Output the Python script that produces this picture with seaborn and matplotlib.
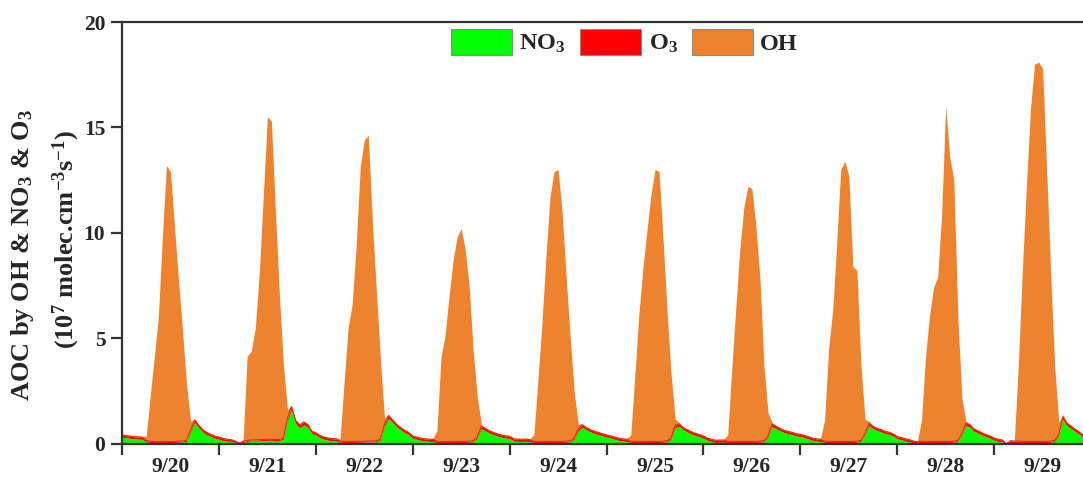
import numpy as np
import pandas as pd
import matplotlib
matplotlib.use("Agg")
import matplotlib.pyplot as plt
import seaborn as sns

# ---------------- data (hourly, 9/20 00:00 -> 9/29 22:00) ----------------
day_labels = ["9/20", "9/21", "9/22", "9/23", "9/24", "9/25", "9/26", "9/27", "9/28", "9/29"]
series_names = ["NO$_3$", "O$_3$", "OH"]

oh_920 = [0.05, 0.05, 0.05, 0.05, 0.05, 0.05, 0.2, 2.2, 4.0, 5.9, 9.7, 13.1, 12.8, 10.2, 7.6, 5.2, 2.6, 0.4, 0.05, 0.05, 0.05, 0.05, 0.05, 0.05]
oh_921 = [0.05, 0.05, 0.05, 0.05, 0.03, 0.0, 0.1, 4.0, 4.2, 5.3, 7.9, 11.6, 15.3, 15.1, 10.8, 6.8, 3.4, 0.4, 0.05, 0.05, 0.05, 0.05, 0.05, 0.05]
oh_922 = [0.05, 0.05, 0.05, 0.05, 0.05, 0.05, 0.1, 2.8, 5.4, 6.5, 9.3, 13.0, 14.3, 14.5, 10.4, 7.1, 3.8, 0.3, 0.05, 0.05, 0.05, 0.05, 0.05, 0.05]
oh_923 = [0.05, 0.05, 0.05, 0.05, 0.05, 0.05, 0.5, 4.0, 5.0, 6.9, 8.6, 9.7, 10.1, 9.1, 7.3, 4.2, 1.9, 0.1, 0.05, 0.05, 0.05, 0.05, 0.05, 0.05]
oh_924 = [0.05, 0.05, 0.05, 0.05, 0.05, 0.05, 0.3, 2.9, 5.6, 8.8, 11.6, 12.8, 12.9, 10.9, 7.8, 4.9, 2.2, 0.2, 0.05, 0.05, 0.05, 0.05, 0.05, 0.05]
oh_925 = [0.05, 0.05, 0.05, 0.05, 0.05, 0.05, 0.3, 3.1, 6.0, 8.2, 10.0, 11.7, 12.9, 12.8, 9.6, 6.1, 3.0, 0.3, 0.05, 0.05, 0.05, 0.05, 0.05, 0.05]
oh_926 = [0.05, 0.05, 0.05, 0.05, 0.05, 0.05, 0.3, 3.4, 6.3, 9.1, 11.1, 12.1, 12.0, 10.2, 7.7, 3.5, 1.1, 0.1, 0.05, 0.05, 0.05, 0.05, 0.05, 0.05]
oh_927 = [0.05, 0.05, 0.05, 0.05, 0.05, 0.05, 1.0, 4.4, 6.2, 9.4, 12.9, 13.3, 12.6, 8.3, 8.1, 3.6, 0.7, 0.1, 0.05, 0.05, 0.05, 0.05, 0.05, 0.05]
oh_928 = [0.05, 0.05, 0.05, 0.05, 0.05, 0.05, 1.0, 4.0, 6.0, 7.3, 7.8, 10.8, 15.9, 13.5, 12.4, 5.9, 1.7, 0.1, 0.05, 0.05, 0.05, 0.05, 0.05, 0.05]
oh_929 = [0.05, 0.05, 0.05, 0.0, 0.05, 0.05, 3.7, 8.2, 12.2, 15.8, 17.9, 18.0, 17.7, 12.9, 7.9, 3.5, 0.6, 0.1, 0.05, 0.05, 0.05, 0.05, 0.05]

no3_920 = [0.30, 0.27, 0.25, 0.22, 0.21, 0.20, 0.08, 0.05, 0.04, 0.04, 0.04, 0.04, 0.05, 0.05, 0.06, 0.07, 0.10, 0.55, 1.00, 0.75, 0.55, 0.42, 0.33, 0.25]
no3_921 = [0.20, 0.14, 0.11, 0.10, 0.06, 0.00, 0.05, 0.10, 0.12, 0.12, 0.13, 0.14, 0.15, 0.15, 0.14, 0.14, 0.20, 1.10, 1.60, 0.95, 0.75, 0.88, 0.78, 0.48]
no3_922 = [0.40, 0.28, 0.20, 0.16, 0.13, 0.12, 0.06, 0.05, 0.05, 0.05, 0.05, 0.06, 0.06, 0.07, 0.07, 0.08, 0.15, 0.80, 1.20, 1.00, 0.80, 0.65, 0.52, 0.42]
no3_923 = [0.25, 0.20, 0.15, 0.12, 0.10, 0.10, 0.05, 0.05, 0.05, 0.05, 0.05, 0.05, 0.05, 0.05, 0.06, 0.08, 0.25, 0.70, 0.60, 0.50, 0.42, 0.35, 0.30, 0.26]
no3_924 = [0.24, 0.12, 0.10, 0.10, 0.11, 0.08, 0.05, 0.05, 0.05, 0.05, 0.05, 0.05, 0.05, 0.05, 0.06, 0.08, 0.20, 0.60, 0.78, 0.65, 0.55, 0.48, 0.42, 0.36]
no3_925 = [0.30, 0.26, 0.20, 0.15, 0.12, 0.10, 0.05, 0.05, 0.05, 0.05, 0.05, 0.05, 0.05, 0.05, 0.06, 0.08, 0.20, 0.75, 0.82, 0.65, 0.55, 0.45, 0.38, 0.32]
no3_926 = [0.25, 0.15, 0.10, 0.05, 0.06, 0.06, 0.05, 0.05, 0.05, 0.05, 0.05, 0.05, 0.05, 0.05, 0.06, 0.08, 0.30, 0.80, 0.70, 0.60, 0.52, 0.47, 0.42, 0.36]
no3_927 = [0.33, 0.28, 0.22, 0.15, 0.12, 0.10, 0.05, 0.05, 0.05, 0.05, 0.05, 0.05, 0.05, 0.05, 0.06, 0.10, 0.40, 0.85, 0.70, 0.62, 0.55, 0.47, 0.43, 0.35]
no3_928 = [0.22, 0.18, 0.12, 0.08, 0.03, 0.02, 0.05, 0.05, 0.05, 0.05, 0.05, 0.05, 0.05, 0.05, 0.06, 0.10, 0.40, 0.85, 0.78, 0.58, 0.50, 0.40, 0.32, 0.25]
no3_929 = [0.15, 0.10, 0.08, 0.00, 0.05, 0.03, 0.05, 0.05, 0.05, 0.05, 0.05, 0.05, 0.05, 0.05, 0.06, 0.10, 0.35, 1.15, 0.85, 0.72, 0.58, 0.45, 0.30]

o3_920 = [0.10, 0.10, 0.10, 0.10, 0.10, 0.10, 0.06, 0.05, 0.05, 0.05, 0.05, 0.05, 0.05, 0.05, 0.05, 0.05, 0.06, 0.10, 0.12, 0.11, 0.10, 0.10, 0.10, 0.10]
o3_921 = [0.10, 0.10, 0.09, 0.08, 0.06, 0.03, 0.05, 0.05, 0.05, 0.05, 0.05, 0.05, 0.05, 0.05, 0.05, 0.05, 0.06, 0.12, 0.15, 0.14, 0.13, 0.14, 0.12, 0.10]
o3_922 = [0.10, 0.10, 0.10, 0.10, 0.10, 0.10, 0.06, 0.05, 0.05, 0.05, 0.05, 0.05, 0.05, 0.05, 0.05, 0.05, 0.06, 0.12, 0.13, 0.12, 0.11, 0.10, 0.10, 0.10]
o3_923 = [0.10, 0.10, 0.10, 0.10, 0.10, 0.10, 0.06, 0.05, 0.05, 0.05, 0.05, 0.05, 0.05, 0.05, 0.05, 0.05, 0.06, 0.11, 0.11, 0.10, 0.10, 0.10, 0.10, 0.10]
o3_924 = [0.10, 0.10, 0.10, 0.10, 0.10, 0.10, 0.06, 0.05, 0.05, 0.05, 0.05, 0.05, 0.05, 0.05, 0.05, 0.05, 0.06, 0.11, 0.11, 0.10, 0.10, 0.10, 0.10, 0.10]
o3_925 = [0.10, 0.10, 0.10, 0.10, 0.10, 0.10, 0.06, 0.05, 0.05, 0.05, 0.05, 0.05, 0.05, 0.05, 0.05, 0.05, 0.06, 0.11, 0.11, 0.10, 0.10, 0.10, 0.10, 0.10]
o3_926 = [0.10, 0.10, 0.10, 0.10, 0.10, 0.10, 0.06, 0.05, 0.05, 0.05, 0.05, 0.05, 0.05, 0.05, 0.05, 0.05, 0.06, 0.11, 0.11, 0.10, 0.10, 0.10, 0.10, 0.10]
o3_927 = [0.10, 0.10, 0.10, 0.10, 0.10, 0.10, 0.06, 0.05, 0.05, 0.05, 0.05, 0.05, 0.05, 0.05, 0.05, 0.05, 0.06, 0.11, 0.11, 0.10, 0.10, 0.10, 0.10, 0.10]
o3_928 = [0.10, 0.10, 0.10, 0.10, 0.08, 0.06, 0.06, 0.05, 0.05, 0.05, 0.05, 0.05, 0.05, 0.05, 0.05, 0.05, 0.06, 0.11, 0.11, 0.10, 0.10, 0.10, 0.10, 0.10]
o3_929 = [0.10, 0.10, 0.08, 0.00, 0.08, 0.08, 0.06, 0.05, 0.05, 0.05, 0.05, 0.05, 0.05, 0.05, 0.05, 0.05, 0.06, 0.12, 0.11, 0.10, 0.10, 0.10, 0.10]

OH = oh_920 + oh_921 + oh_922 + oh_923 + oh_924 + oh_925 + oh_926 + oh_927 + oh_928 + oh_929
NO3 = no3_920 + no3_921 + no3_922 + no3_923 + no3_924 + no3_925 + no3_926 + no3_927 + no3_928 + no3_929
O3 = o3_920 + o3_921 + o3_922 + o3_923 + o3_924 + o3_925 + o3_926 + o3_927 + o3_928 + o3_929

df = pd.DataFrame({"hour": np.arange(len(OH)), "NO3": NO3, "O3": O3, "OH": OH})
df["day"] = df["hour"] / 24.0
df["no3_o3"] = df["NO3"] + df["O3"]

colors = ["#00FF00", "#FF0000", "#EE832F"]

# ---------------- style ----------------
sns.set_theme(style="ticks")
plt.rcParams["font.family"] = ["Liberation Serif", "DejaVu Serif"]
plt.rcParams["font.weight"] = "bold"
plt.rcParams["mathtext.fontset"] = "custom"
plt.rcParams["mathtext.rm"] = "Liberation Serif:bold"
plt.rcParams["mathtext.it"] = "Liberation Serif:bold"
plt.rcParams["mathtext.bf"] = "Liberation Serif:bold"
plt.rcParams["mathtext.default"] = "rm"

fig = plt.figure(figsize=(10.83, 4.82), dpi=100)
ax = fig.add_axes([122 / 1083, 38.5 / 482, 961 / 1083, 421.5 / 482])

polys = ax.stackplot(df["day"], df["NO3"], df["O3"], df["OH"], colors=colors,
                     labels=series_names, linewidth=0)
sns.lineplot(x=df["day"], y=df["no3_o3"], ax=ax, color="#E8200A", linewidth=0.7, legend=False)

ax.set_xlim(0, df["day"].iloc[-1])
ax.set_ylim(0, 20)
ax.set_yticks([0, 5, 10, 15, 20])
ax.set_xticks(np.arange(0, len(day_labels)))
ax.set_xticklabels([])
ax.set_xticks(np.arange(len(day_labels)) + 0.5, minor=True)
ax.set_xticklabels(day_labels, minor=True)
ax.set_xlabel("")
ax.set_ylabel("")

for side in ["left", "bottom", "top"]:
    ax.spines[side].set_color("#333333")
    ax.spines[side].set_linewidth(1.6)
ax.spines["right"].set_visible(False)

ax.tick_params(axis="both", which="major", direction="out", length=8, width=1.6,
               color="#333333", labelsize=15.5, pad=4)
ax.tick_params(axis="x", which="minor", length=0, labelsize=15.5, pad=10)
for lab in ax.get_yticklabels() + ax.get_xticklabels(minor=True):
    lab.set_fontweight("bold")

fig.text(23 / 1083, 1 - 255 / 482, "AOC by OH & NO$_3$ & O$_3$", rotation=90,
         ha="center", va="center", fontsize=19, fontweight="bold")
fig.text(66 / 1083, 1 - 240 / 482, "(10$^7$ molec.cm$^{-3}$s$^{-1}$)", rotation=90,
         ha="center", va="center", fontsize=19, fontweight="bold")

leg = ax.legend(handles=polys, labels=series_names, loc="center",
                bbox_to_anchor=(0.523, 0.952), ncol=3, frameon=False,
                fontsize=17.5, handlelength=2.5, handleheight=1.25,
                handletextpad=0.3, columnspacing=0.6, borderaxespad=0)
for h in leg.legend_handles:
    h.set_edgecolor("#8a8a8a")
    h.set_linewidth(0.8)

fig.savefig("out.png", dpi=100)
